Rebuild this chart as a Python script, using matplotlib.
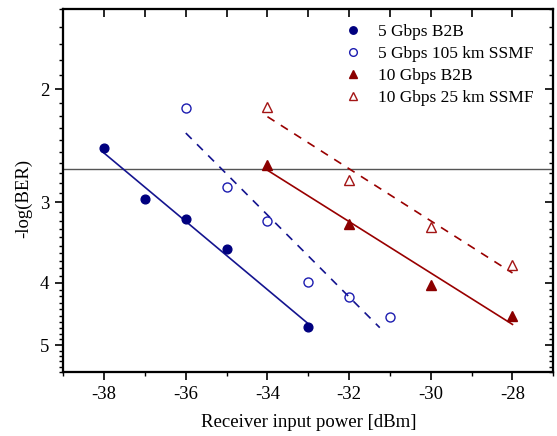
import numpy as np
import matplotlib
matplotlib.use('Agg')
import matplotlib.pyplot as plt
from matplotlib.ticker import FixedLocator, NullFormatter, FixedFormatter

# ---- data ----
x_5g_b2b = [-38, -37, -36, -35, -33]
y_5g_b2b = [2.47, 2.96, 3.18, 3.54, 4.68]
x_5g_ssmf = [-36, -35, -34, -33, -32, -31]
y_5g_ssmf = [2.14, 2.84, 3.21, 3.99, 4.21, 4.52]
x_10g_b2b = [-34, -32, -30, -28]
y_10g_b2b = [2.62, 3.24, 4.03, 4.50]
x_10g_ssmf = [-34, -32, -30, -28]
y_10g_ssmf = [2.13, 2.77, 3.28, 3.75]
fit_ranges = [(-38, -33), (-36, -31.25), (-34, -28), (-34, -28)]
series_labels = ["5 Gbps B2B", "5 Gbps 105 km SSMF", "10 Gbps B2B", "10 Gbps 25 km SSMF"]
threshold = 2.66
x_major = [-38, -36, -34, -32, -30, -28]
y_major = [2, 3, 4, 5]

plt.rcParams['font.family'] = ['Liberation Serif', 'DejaVu Serif']
plt.rcParams['font.size'] = 13.5

fig = plt.figure(figsize=(5.57, 4.36), dpi=100)
ax = fig.add_axes([63.3/557, (436-371.7)/436, 490/557, 362.7/436])

navy = '#00007F'
blue_open = '#1C1CB0'
blue_line = '#14148F'
dred = '#8B0000'
red_open = '#A31515'
red_line = '#990000'

ax.axhline(threshold, color='#555555', lw=1.0, zorder=1)

series = [
    (x_5g_b2b, y_5g_b2b, dict(marker='o', ms=6.3, mfc=navy, mec=navy), blue_line, '-'),
    (x_5g_ssmf, y_5g_ssmf, dict(marker='o', ms=6.5, mfc='none', mec=blue_open, mew=1.0), blue_line, (0, (5, 4.5))),
    (x_10g_b2b, y_10g_b2b, dict(marker='^', ms=7.5, mfc=dred, mec=dred), red_line, '-'),
    (x_10g_ssmf, y_10g_ssmf, dict(marker='^', ms=7.5, mfc='none', mec=red_open, mew=1.0), red_line, (0, (5, 4.5))),
]
for (xs, ys, mk, lc, ls), (x0, x1), lab in zip(series, fit_ranges, series_labels):
    p = np.polyfit(np.array(xs, float), np.log10(ys), 1)
    xf = np.linspace(x0, x1, 50)
    ax.plot(xf, 10**np.polyval(p, xf), color=lc, lw=1.2, ls=ls, zorder=2)
    ax.plot(xs, ys, ls='none', label=lab, zorder=3, **mk)

ax.set_yscale('log')
ax.set_xlim(-39, -27)
ax.set_ylim(5.5, 1.5)

y_minor = [round(v, 1) for v in np.arange(1.5, 5.51, 0.1) if abs(v - round(v)) > 1e-6]
x_minor = list(range(-39, -26, 2))

ax.yaxis.set_major_locator(FixedLocator(y_major))
ax.yaxis.set_minor_locator(FixedLocator(y_minor))
ax.yaxis.set_minor_formatter(NullFormatter())
ax.xaxis.set_major_locator(FixedLocator(x_major))
ax.xaxis.set_minor_locator(FixedLocator(x_minor))
ax.yaxis.set_major_formatter(FixedFormatter([str(v) for v in y_major]))
ax.xaxis.set_major_formatter(FixedFormatter([str(v) for v in x_major]))
ax.tick_params(axis='both', which='major', direction='out', length=6, width=1.2, labelsize=13.5, pad=4)
ax.tick_params(axis='both', which='minor', direction='out', length=3, width=1.0)
ax.tick_params(top=False, right=False)

# inward ticks on top and right
axr = ax.twinx()
axr.set_yscale('log')
axr.set_ylim(5.5, 1.5)
axr.yaxis.set_major_locator(FixedLocator(y_major))
axr.yaxis.set_minor_locator(FixedLocator(y_minor))
axr.yaxis.set_major_formatter(NullFormatter())
axr.yaxis.set_minor_formatter(NullFormatter())
axr.tick_params(axis='y', which='major', direction='in', length=6, width=1.2)
axr.tick_params(axis='y', which='minor', direction='in', length=3, width=1.0)

axt = ax.twiny()
axt.set_xlim(-39, -27)
axt.xaxis.set_major_locator(FixedLocator(list(range(-39, -26))))
axt.xaxis.set_major_formatter(NullFormatter())
axt.tick_params(axis='x', which='major', direction='in', length=6, width=1.2)
axt.tick_params(axis='x', which='minor', length=0)

for a in (ax, axr, axt):
    for s in a.spines.values():
        s.set_linewidth(1.5)

ax.set_xlabel('Receiver input power [dBm]', fontsize=13.5, labelpad=8)
ax.set_ylabel('-log(BER)', fontsize=13.5)
ax.yaxis.set_label_coords(-0.064, 0.4775)

leg = ax.legend(loc='upper left', bbox_to_anchor=(344/557, 1 - 24/436), bbox_transform=fig.transFigure,
                frameon=False, handlelength=1.0, handletextpad=0.97, labelspacing=0.33,
                borderpad=0, borderaxespad=0, fontsize=12.5, numpoints=1, markerscale=0.85)

fig.savefig('out.png', dpi=100)
